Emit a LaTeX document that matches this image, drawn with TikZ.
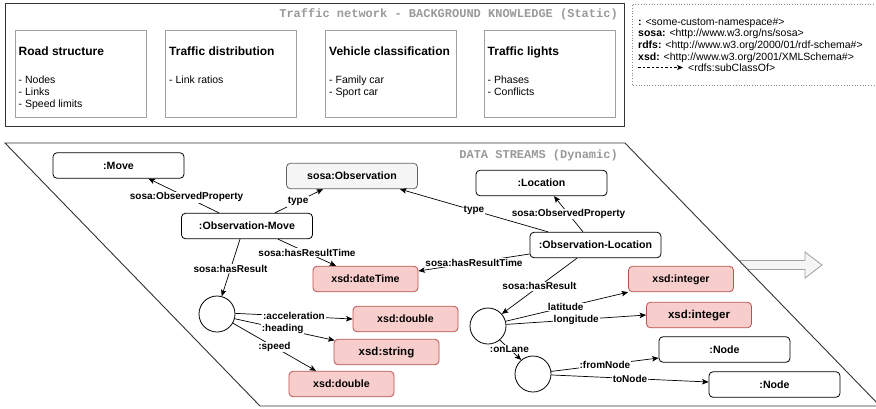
\documentclass[tikz,border=0pt]{standalone}
\usepackage{fontspec}
\setmainfont{Liberation Sans}
\setmonofont{Liberation Mono}
\usetikzlibrary{arrows.meta,calc}

\definecolor{redfill}{HTML}{F8CECC}
\definecolor{redline}{HTML}{B85450}
\definecolor{greyfill}{HTML}{F5F5F5}
\definecolor{greyline}{HTML}{666666}
\definecolor{titlegrey}{HTML}{9A9A9A}
\definecolor{boxline}{HTML}{A0A0A0}
\definecolor{frameline}{HTML}{333333}
\definecolor{legendline}{HTML}{8A8A8A}

\begin{document}
\begin{tikzpicture}[x=1pt,y=-1pt,
  cls/.style={draw=black, fill=white, rounded corners=4pt, line width=0.8pt,
    minimum width=131pt, minimum height=25.5pt, inner sep=0pt,
    text height=7.6pt, text depth=0pt,
    font=\fontsize{10.6}{12}\selectfont\bfseries},
  lit/.style={cls, draw=redline, fill=redfill, minimum width=105pt},
  obscls/.style={cls, draw=greyline, fill=greyfill},
  blank/.style={circle, draw=black, fill=white, line width=0.8pt,
    minimum size=36pt, inner sep=0pt},
  rel/.style={draw=black, line width=0.7pt,
    -{Stealth[length=6.5pt,width=5.5pt,inset=1.5pt]}},
  lbl/.style={fill=white, inner sep=0.8pt,
    font=\fontsize{10}{11}\selectfont\bfseries},
  kbox/.style={draw=boxline, line width=0.8pt, anchor=north west,
    minimum width=131pt, minimum height=87pt, inner sep=0pt},
  ktitle/.style={anchor=base west, inner sep=0pt,
    font=\fontsize{12}{14}\selectfont\bfseries},
  kitems/.style={anchor=north west, inner sep=0pt, align=left,
    font=\fontsize{10.5}{12}\selectfont},
  headline/.style={anchor=east, inner sep=0pt, text=titlegrey,
    font=\ttfamily\bfseries\fontsize{12}{14}\selectfont},
  legend/.style={anchor=base west, inner sep=0pt,
    font=\fontsize{10.5}{12}\selectfont},
  subarrow/.style={draw=black, line width=0.7pt, dash pattern=on 2.5pt off 2pt,
    -{Stealth[length=6pt,width=5pt,inset=1.5pt]}},
]
\useasboundingbox (0,0) rectangle (876,408);

% ---------- background knowledge ----------
\node[draw=frameline, line width=1pt, anchor=north west, minimum width=619pt,
  minimum height=123pt, inner sep=0pt] (bk) at (5,3) {};
\node[headline] (bkh) at (618,14) {Traffic network - BACKGROUND KNOWLEDGE (Static)};

\node[kbox] (rs) at (15,30) {};
\node[kbox] (td) at (165,30) {};
\node[kbox] (vc) at (325,30) {};
\node[kbox] (tl) at (484,30) {};

\node[ktitle] (rst) at ([xshift=3.5pt,yshift=-25.5pt]rs.north west) {Road structure};
\node[ktitle] (tdt) at ([xshift=4pt,yshift=-25.5pt]td.north west) {Traffic distribution};
\node[ktitle] (vct) at ([xshift=4pt,yshift=-25.5pt]vc.north west) {Vehicle classification};
\node[ktitle] (tlt) at ([xshift=3.5pt,yshift=-25.5pt]tl.north west) {Traffic lights};

\node[kitems] (rsi) at ([xshift=3.5pt,yshift=-46pt]rs.north west) {- Nodes\\- Links\\- Speed limits};
\node[kitems] (tdi) at ([xshift=4pt,yshift=-46pt]td.north west) {- Link ratios};
\node[kitems] (vci) at ([xshift=4pt,yshift=-46pt]vc.north west) {- Family car\\- Sport car};
\node[kitems] (tli) at ([xshift=3.5pt,yshift=-46pt]tl.north west) {- Phases\\- Conflicts};

% ---------- prefixes ----------
\draw[legendline, line width=0.8pt, dash pattern=on 0.8pt off 1.9pt]
  (890,4) -- (632,4) -- (632,85) -- (890,85);
\node[legend] (lg1) at (638,25.2) {\textbf{:} <some-custom-namespace\#>};
\node[legend] (lg2) at (638,36.8) {\textbf{sosa:} <http://www.w3.org/ns/sosa>};
\node[legend] (lg3) at (638,48.4) {\textbf{rdfs:} <http://www.w3.org/2000/01/rdf-schema\#>};
\node[legend] (lg4) at (638,60) {\textbf{xsd:} <http://www.w3.org/2001/XMLSchema\#>};
\coordinate (ds) at (638,67.5);
\node[legend, anchor=west] (lg5) at (688,67.5) {<rdfs:subClassOf>};
\draw[subarrow] (ds) -- ([xshift=-5pt]lg5.west);

% ---------- stream arrow and data streams panel ----------
\draw[draw=boxline, fill=greyfill, line width=0.8pt]
  (700,260.5) -- (805,260.5) -- (805,252) -- (822,265) -- (805,278)
  -- (805,269.5) -- (700,269.5) -- cycle;
\draw[draw=frameline, line width=0.9pt, fill=white]
  (5,143) -- (625,143) -- (880,406) -- (260,406) -- cycle;
\node[headline] (dsh) at (618,155) {DATA STREAMS (Dynamic)};

% nodes
\node[cls] (mv) at (118.5,165.5) {:Move};
\node[obscls] (obs) at (352,176) {sosa:Observation};
\node[cls] (om) at (247,226) {:Observation-Move};
\node[cls] (loc) at (541.5,183) {:Location};
\node[cls] (ol) at (595.5,245) {:Observation-Location};
\node[lit] (dt) at (365.5,279) {xsd:dateTime};
\node[lit] (db1) at (405.5,319) {xsd:double};
\node[lit, font=\fontsize{11.5}{13}\selectfont\bfseries] (str) at (386.5,352) {xsd:string};
\node[lit] (db2) at (341.5,384) {xsd:double};
\node[blank] (b1) at (217,314) {};
\node[lit] (int1) at (681,279) {xsd:integer};
\node[lit, font=\fontsize{11.5}{13}\selectfont\bfseries] (int2) at (699,315) {xsd:integer};
\node[blank] (b2) at (488,326) {};
\node[blank] (b3) at (533,374) {};
\node[cls] (n1) at (724.5,349.5) {:Node};
\node[cls] (n2) at (774.5,384.5) {:Node};

% relations
\draw[rel] ([xshift=-28pt]om.north) -- node[lbl,pos=0.46]{sosa:ObservedProperty} ([xshift=30pt]mv.south);
\draw[rel] ([xshift=28pt]om.north) -- node[lbl,pos=0.48]{type} ([xshift=-29pt]obs.south);
\draw[rel] ([xshift=-47.5pt]ol.north) -- node[lbl]{type} ([xshift=48pt]obs.south);
\draw[rel] ([xshift=-12.5pt]ol.north) -- node[lbl]{sosa:ObservedProperty} ([xshift=12.5pt]loc.south);
\draw[rel] ([xshift=31pt]om.south) -- node[lbl]{sosa:hasResultTime} ([xshift=-29.5pt]dt.north);
\draw[rel] ([yshift=-9pt]ol.west) -- node[lbl]{sosa:hasResultTime} ([yshift=8pt]dt.east);
\draw[rel] ([xshift=-7pt]om.south) -- node[lbl,pos=0.52]{sosa:hasResult} (b1.75);
\draw[rel] ([xshift=-18.5pt]ol.south) -- node[lbl]{sosa:hasResult} (b2.41);
\draw[rel] (b1.2) -- node[lbl]{:acceleration} (db1.west);
\draw[rel] (b1.-15) -- node[lbl,pos=0.48]{:heading} ([xshift=1pt,yshift=-1.5pt]str.north west);
\draw[rel] (b1.-30) -- node[lbl]{:speed} ([xshift=-25.5pt]db2.north);
\draw[rel] (b2.15) -- node[lbl,pos=0.49]{latitude} (int1.south west);
\draw[rel] (b2.5) -- node[lbl]{longitude} (int2.west);
\draw[rel] (b2.-50) -- node[lbl,pos=0.45]{:onLane} (b3.130);
\draw[rel] (b3.8) -- node[lbl]{:fromNode} ([yshift=-8.5pt]n1.west);
\draw[rel] (b3.-3) -- node[lbl]{toNode} ([yshift=2.5pt]n2.west);
\end{tikzpicture}
\end{document}
